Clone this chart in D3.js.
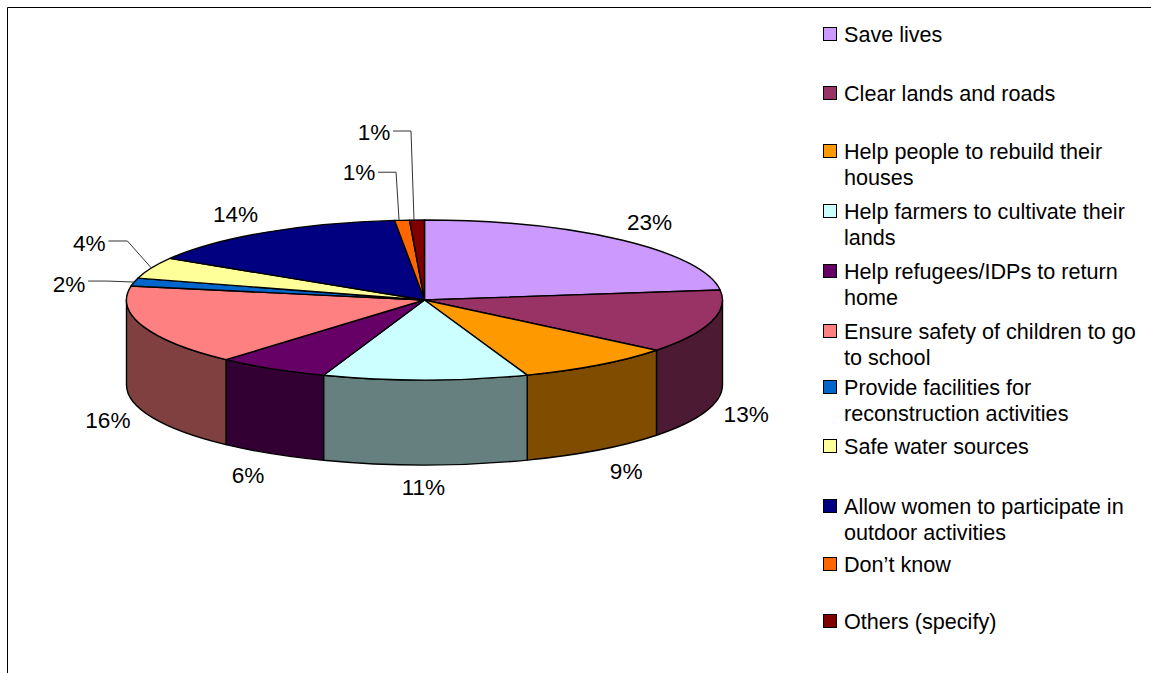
<!DOCTYPE html>
<html><head><meta charset="utf-8">
<script src="https://cdn.jsdelivr.net/npm/d3@7"></script>
<style>html,body{margin:0;padding:0;background:#fff}svg{display:block}text{font-family:"Liberation Sans",Arial,sans-serif;fill:#000}</style>
</head><body><svg id="c" width="1151" height="673"></svg>
<script>
// Data
const categories = [["Save lives"],["Clear lands and roads"],["Help people to rebuild their","houses"],["Help farmers to cultivate their","lands"],["Help refugees/IDPs to return","home"],["Ensure safety of children to go","to school"],["Provide facilities for","reconstruction activities"],["Safe water sources"],["Allow women to participate in","outdoor activities"],["Don\u2019t know"],["Others (specify)"]];
const shares = [23,12.8,8.6,11.1,6.1,16.2,1.6,4.3,14.7,0.8,0.8];
const percentLabels = ["23%","13%","9%","11%","6%","16%","2%","4%","14%","1%","1%"];
const colors = ["#CC99FF","#993366","#FF9900","#CCFFFF","#660066","#FF8080","#0066CC","#FFFF99","#000080","#FF6600","#800000"];

// Layout
const cx=424.5, cy=300, rx=298, ry=80, depth=85, fs=21.6, labelFs=22.6;
const labelOffset=[[28,-18],[35,7],[28,21],[-2,22],[-24,21],[-35,9],[-65,2],[-62,-25],[-30,-18],[-43,-48],[-43,-88]];
const leaderElbow=[null,null,null,null,null,null,[-27,-1],[-24,-27],null,[-6,-48],[-6,-89]];
const legendY=[34,93,151,211,271,331,387,446,506,564,621];

const svg=d3.select("#c");
svg.append("path").attr("d","M7.5,673V7.5H1151").attr("fill","none").attr("stroke","#000").attr("stroke-width",1);

const arcs=d3.pie().sort(null).value(d=>d)(shares);
const P=(a)=>[cx+rx*Math.sin(a),cy-ry*Math.cos(a)];
const half=Math.PI/2, h3=3*half;

function sector(s,e){
  const [x0,y0]=P(s),[x1,y1]=P(e),l=(e-s)>Math.PI?1:0;
  return `M${cx},${cy}L${x0},${y0}A${rx},${ry} 0 ${l} 1 ${x1},${y1}Z`;
}
function wall(s,e){
  const a=Math.max(s,half),b=Math.min(e,h3);
  if(b<=a) return null;
  const [x0,y0]=P(a),[x1,y1]=P(b);
  return `M${x0},${y0}A${rx},${ry} 0 0 1 ${x1},${y1}L${x1},${y1+depth}A${rx},${ry} 0 0 0 ${x0},${y0+depth}Z`;
}
const shade=c=>{const r=d3.rgb(c);return d3.rgb(r.r*.5,r.g*.5,r.b*.5).formatHex();};

const g=svg.append("g").attr("stroke","#000").attr("stroke-width",1.4).attr("stroke-linejoin","round");
g.selectAll("path.w").data(arcs.filter(d=>wall(d.startAngle,d.endAngle))).join("path").attr("class","w")
  .attr("d",d=>wall(d.startAngle,d.endAngle)).attr("fill",d=>shade(colors[d.index]));
g.selectAll("path.t").data(arcs).join("path").attr("class","t")
  .attr("d",d=>sector(d.startAngle,d.endAngle)).attr("fill",d=>colors[d.index]);

// Data labels and leaders
arcs.forEach((d,i)=>{
  const m=(d.startAngle+d.endAngle)/2;
  const [x,y0]=P(m);
  const y=(m>half&&m<h3&&!leaderElbow[i])?y0+depth:y0;
  const lx=x+labelOffset[i][0], ly=y+labelOffset[i][1];
  svg.append("text").attr("x",lx).attr("y",ly).attr("text-anchor","middle").attr("dy","0.36em").attr("font-size",labelFs).text(percentLabels[i]);
  if(leaderElbow[i]){
    const ex=x+leaderElbow[i][0], ey=y+leaderElbow[i][1];
    svg.append("path").attr("d",`M${lx+19},${ey}H${ex}L${x-(i>=9?3:0)},${y}`).attr("fill","none").attr("stroke","#333").attr("stroke-width",1);
  }
});

// Legend
const leg=svg.append("g");
categories.forEach((lines,i)=>{
  leg.append("rect").attr("x",823.5).attr("y",legendY[i]-6.5).attr("width",13).attr("height",13).attr("fill",colors[i]).attr("stroke","#000").attr("stroke-width",1);
  lines.forEach((t,j)=>leg.append("text").attr("x",844).attr("y",legendY[i]+j*26.3).attr("dy","0.36em").attr("font-size",fs).text(t));
});
</script></body></html>
